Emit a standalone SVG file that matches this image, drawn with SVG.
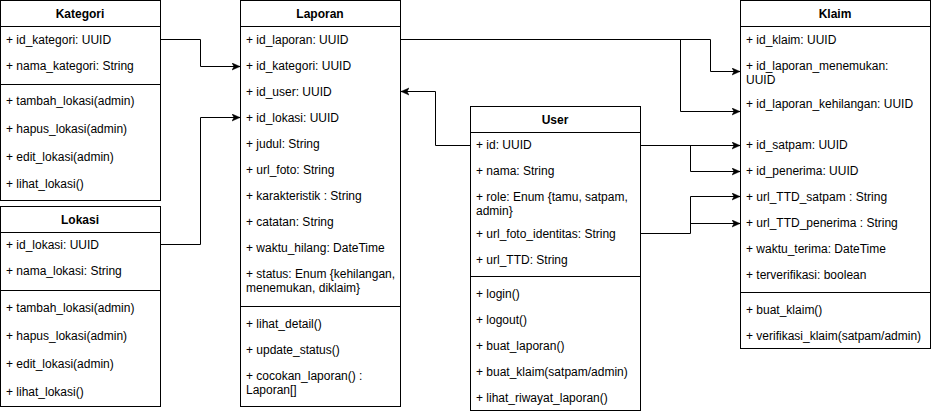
<svg xmlns="http://www.w3.org/2000/svg" width="932" height="414" viewBox="0 0 932 414">
<style>
.box{fill:#fff;stroke:#000;stroke-width:1}
.sep{stroke:#000;stroke-width:1}
text{font-family:"Liberation Sans",Arial,sans-serif;font-size:12px;fill:#000}
.h{font-weight:bold;text-anchor:middle}
.c{fill:none;stroke:#000;stroke-width:1}
</style>
<defs>
<marker id="arr" markerUnits="userSpaceOnUse" markerWidth="9" markerHeight="9" refX="8" refY="4" orient="auto">
<path d="M0,0.5 L8,4 L0,7.5 L2,4 z" fill="#000" stroke="#000" stroke-width="0.5"/>
</marker>
</defs>
<g id="kategori">
<rect class="box" x="0.5" y="0.5" width="160" height="200"/>
<line class="sep" x1="0.5" y1="26.5" x2="160.5" y2="26.5"/>
<line class="sep" x1="0.5" y1="84.5" x2="160.5" y2="84.5"/>
<text class="h" x="80" y="18">Kategori</text>
<text x="6" y="44">+ id_kategori: UUID</text>
<text x="6" y="70">+ nama_kategori: String</text>
<text x="6" y="105">+ tambah_lokasi(admin)</text>
<text x="6" y="133">+ hapus_lokasi(admin)</text>
<text x="6" y="161">+ edit_lokasi(admin)</text>
<text x="6" y="188">+ lihat_lokasi()</text>
</g>
<g id="lokasi">
<rect class="box" x="0.5" y="206.5" width="160" height="200"/>
<line class="sep" x1="0.5" y1="232.5" x2="160.5" y2="232.5"/>
<line class="sep" x1="0.5" y1="290.5" x2="160.5" y2="290.5"/>
<text class="h" x="80" y="224">Lokasi</text>
<text x="6" y="249">+ id_lokasi: UUID</text>
<text x="6" y="275">+ nama_lokasi: String</text>
<text x="6" y="312">+ tambah_lokasi(admin)</text>
<text x="6" y="340">+ hapus_lokasi(admin)</text>
<text x="6" y="368">+ edit_lokasi(admin)</text>
<text x="6" y="396">+ lihat_lokasi()</text>
</g>
<g id="laporan">
<rect class="box" x="240.5" y="0.5" width="160" height="406"/>
<line class="sep" x1="240.5" y1="26.5" x2="400.5" y2="26.5"/>
<line class="sep" x1="240.5" y1="306.5" x2="400.5" y2="306.5"/>
<text class="h" x="320" y="18">Laporan</text>
<text x="246" y="44">+ id_laporan: UUID</text>
<text x="246" y="70">+ id_kategori: UUID</text>
<text x="246" y="96">+ id_user: UUID</text>
<text x="246" y="122">+ id_lokasi: UUID</text>
<text x="246" y="148">+ judul: String</text>
<text x="246" y="174">+ url_foto: String</text>
<text x="246" y="200">+ karakteristik : String</text>
<text x="246" y="226">+ catatan: String</text>
<text x="246" y="252">+ waktu_hilang: DateTime</text>
<text x="246" y="278">+ status: Enum {kehilangan,</text>
<text x="246" y="292">menemukan, diklaim}</text>
<text x="246" y="328">+ lihat_detail()</text>
<text x="246" y="354">+ update_status()</text>
<text x="246" y="380">+ cocokan_laporan() :</text>
<text x="246" y="394">Laporan[]</text>
</g>
<g id="user">
<rect class="box" x="470.5" y="106.5" width="170" height="304"/>
<line class="sep" x1="470.5" y1="132.5" x2="640.5" y2="132.5"/>
<line class="sep" x1="470.5" y1="276.5" x2="640.5" y2="276.5"/>
<text class="h" x="555" y="124">User</text>
<text x="476" y="149">+ id: UUID</text>
<text x="476" y="175">+ nama: String</text>
<text x="476" y="201">+ role: Enum {tamu, satpam,</text>
<text x="476" y="215">admin}</text>
<text x="476" y="238">+ url_foto_identitas: String</text>
<text x="476" y="264">+ url_TTD: String</text>
<text x="476" y="298">+ login()</text>
<text x="476" y="324">+ logout()</text>
<text x="476" y="350">+ buat_laporan()</text>
<text x="476" y="376">+ buat_klaim(satpam/admin)</text>
<text x="476" y="402">+ lihat_riwayat_laporan()</text>
</g>
<g id="klaim">
<rect class="box" x="740.5" y="0.5" width="190" height="348"/>
<line class="sep" x1="740.5" y1="26.5" x2="930.5" y2="26.5"/>
<line class="sep" x1="740.5" y1="292.5" x2="930.5" y2="292.5"/>
<text class="h" x="835" y="18">Klaim</text>
<text x="746" y="44">+ id_klaim: UUID</text>
<text x="746" y="70">+ id_laporan_menemukan:</text>
<text x="746" y="84">UUID</text>
<text x="746" y="108">+ id_laporan_kehilangan: UUID</text>
<text x="746" y="149">+ id_satpam: UUID</text>
<text x="746" y="175">+ id_penerima: UUID</text>
<text x="746" y="201">+ url_TTD_satpam : String</text>
<text x="746" y="227">+ url_TTD_penerima : String</text>
<text x="746" y="253">+ waktu_terima: DateTime</text>
<text x="746" y="279">+ terverifikasi: boolean</text>
<text x="746" y="314">+ buat_klaim()</text>
<text x="746" y="340">+ verifikasi_klaim(satpam/admin)</text>
</g>
<g id="connectors">
<path class="c" d="M160.5,39.5 H200.5 V66.5 H240" marker-end="url(#arr)"/>
<path class="c" d="M160.5,244.5 H200.5 V117.5 H240" marker-end="url(#arr)"/>
<path class="c" d="M470.5,145.5 H435.5 V91.5 H401" marker-end="url(#arr)"/>
<path class="c" d="M400.5,39.5 H710.5 V71.5 H740" marker-end="url(#arr)"/>
<path class="c" d="M680.5,39.5 V111.5 H740" marker-end="url(#arr)"/>
<path class="c" d="M640.5,145.5 H740" marker-end="url(#arr)"/>
<path class="c" d="M690.5,145.5 V171.5 H740" marker-end="url(#arr)"/>
<path class="c" d="M640.5,233.5 H690.5 V196.5 H740" marker-end="url(#arr)"/>
<path class="c" d="M690.5,223.5 H740" marker-end="url(#arr)"/>
</g>
</svg>
